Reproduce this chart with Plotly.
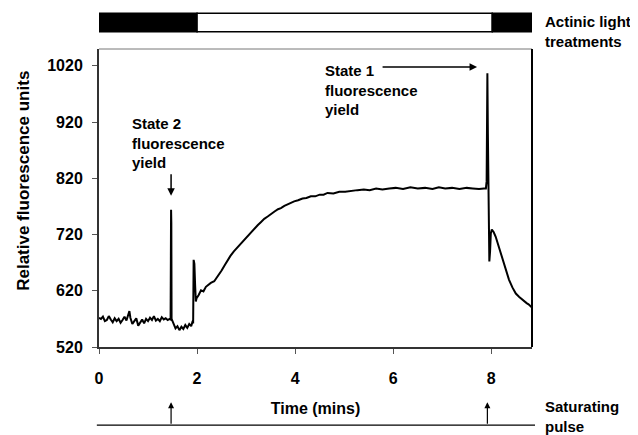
import plotly.graph_objects as go

# fluorescence trace (time in mins, relative fluorescence units)
time_min = [
    0.00, 0.04, 0.08, 0.12, 0.16, 0.20, 0.24, 0.28, 0.32, 0.36, 0.40, 0.44, 0.48,
    0.52, 0.56, 0.60, 0.62, 0.64, 0.68, 0.72, 0.76, 0.80, 0.84, 0.88, 0.92, 0.96,
    1.00, 1.04, 1.08, 1.12, 1.16, 1.20, 1.24, 1.28, 1.32, 1.36, 1.40, 1.44, 1.46,
    1.47, 1.475, 1.48, 1.50, 1.52, 1.56, 1.60, 1.64, 1.68, 1.72, 1.76, 1.80, 1.84,
    1.88, 1.91, 1.92, 1.93, 1.945, 1.96, 1.975, 1.99, 2.03, 2.08, 2.13, 2.18, 2.22,
    2.28, 2.35, 2.42, 2.50, 2.56, 2.62, 2.68, 2.75, 2.82, 2.90, 2.97, 3.05, 3.11,
    3.17, 3.24, 3.30, 3.37, 3.44, 3.51, 3.58, 3.65, 3.71, 3.78, 3.85, 3.92, 3.98,
    4.06, 4.15, 4.23, 4.32, 4.41, 4.50, 4.58, 4.66, 4.78, 4.90, 5.02, 5.14, 5.27,
    5.40, 5.52, 5.65, 5.78, 5.92, 6.05, 6.20, 6.35, 6.50, 6.65, 6.80, 6.93, 7.06,
    7.20, 7.35, 7.50, 7.62, 7.75, 7.85, 7.89, 7.905, 7.92, 7.93, 7.945, 7.96, 7.975,
    7.99, 8.01, 8.05, 8.09, 8.15, 8.22, 8.29, 8.36, 8.43, 8.50, 8.57, 8.63, 8.68,
    8.72, 8.76, 8.80, 8.83,
]
fluorescence = [
    572, 570, 574, 566, 568, 575, 569, 564, 571, 566, 570, 563, 568,
    574, 567, 579, 584, 572, 561, 566, 571, 558, 565, 569, 562, 570,
    566, 572, 568, 575, 567, 570, 566, 573, 569, 571, 568, 570, 569,
    764, 740, 570, 566, 561, 553, 557, 550, 556, 552, 559, 554, 561,
    557, 566, 562, 675, 668, 630, 601, 607, 612, 621, 619, 627, 630,
    634, 637, 645, 656, 665, 674, 682, 690, 697, 705, 711, 719, 725,
    731, 737, 742, 748, 752, 757, 761, 765, 767, 771, 774, 776, 779,
    781, 784, 785, 788, 788, 791, 791, 794, 793, 796, 796, 798, 799,
    800, 799, 802, 800, 802, 803, 801, 804, 802, 803, 801, 804, 802,
    803, 801, 803, 802, 801, 802, 802, 815, 1007, 900, 760, 672, 690,
    722, 729, 724, 716, 699, 676, 656, 640, 626, 615, 609, 604, 601,
    598, 596, 592, 590,
]

# actinic light periods: (start, end, colour)
light_start = [0, 2, 8.02]
light_end = [2, 8.02, 8.83]
light_fill = ['black', 'white', 'black']

# saturating pulse times (mins)
pulse_times = [1.47, 7.92]

y_ticks = [520, 620, 720, 820, 920, 1020]
x_ticks = [0, 2, 4, 6, 8]

FONT = 'Liberation Sans, Arial, sans-serif'
bold = dict(family=FONT, size=16, color='black', weight='bold')
label_font = dict(family=FONT, size=15, color='black', weight='bold')

fig = go.Figure()
fig.add_trace(go.Scatter(x=time_min, y=fluorescence, mode='lines',
                         line=dict(color='black', width=2),
                         showlegend=False, hoverinfo='skip'))

# light treatment bar above the plot
for x0, x1, fill in zip(light_start, light_end, light_fill):
    fig.add_shape(type='rect', xref='x', yref='paper', x0=x0, x1=x1,
                  y0=1.058, y1=1.12, fillcolor=fill,
                  line=dict(color='black', width=1.5), layer='above')

# top / right frame
fig.add_shape(type='line', xref='paper', yref='paper', x0=0, x1=1, y0=1, y1=1,
              line=dict(color='#777', width=1))
fig.add_shape(type='line', xref='paper', yref='paper', x0=1, x1=1, y0=0, y1=1,
              line=dict(color='black', width=2))

# saturating pulse baseline
fig.add_shape(type='line', xref='paper', yref='paper', x0=-0.005, x1=1.007,
              y0=-0.262, y1=-0.262, line=dict(color='black', width=1.2))

annotations = []
for pt in pulse_times:
    annotations.append(dict(x=pt, y=-0.185, xref='x', yref='paper', text='',
                            showarrow=True, ax=0, ay=23, arrowhead=2,
                            arrowsize=1, arrowwidth=1.2, arrowcolor='black'))

annotations += [
    dict(x=0.64, y=936, xref='x', yref='y', text='State 2<br>fluorescence<br>yield',
         showarrow=False, xanchor='left', yanchor='top', align='left', font=label_font),
    dict(x=1.47, y=789, xref='x', yref='y', text='', showarrow=True, ax=0, ay=-23,
         arrowhead=2, arrowsize=1, arrowwidth=1.5, arrowcolor='black'),
    dict(x=4.56, y=1030, xref='x', yref='y', text='State 1<br>fluorescence<br>yield',
         showarrow=False, xanchor='left', yanchor='top', align='left', font=label_font),
    dict(x=7.71, y=1018, xref='x', yref='y', text='', showarrow=True, ax=-96, ay=0,
         arrowhead=2, arrowsize=1, arrowwidth=1.5, arrowcolor='black'),
    dict(x=1.025, y=1.06, xref='paper', yref='paper', text='Actinic light<br>treatments',
         showarrow=False, xanchor='left', yanchor='middle', align='left', font=label_font),
    dict(x=1.025, y=-0.232, xref='paper', yref='paper', text='Saturating<br>pulse',
         showarrow=False, xanchor='left', yanchor='middle', align='left', font=label_font),
    # y axis title
    dict(x=-0.176, y=0.557, xref='paper', yref='paper', text='Relative fluorescence units',
         showarrow=False, textangle=-90, xanchor='center', yanchor='middle',
         font=dict(family=FONT, size=17, color='black', weight='bold')),
]

# page body has an 8px margin, so the figure is sized/offset to compensate
fig.update_layout(
    width=630, height=427,
    margin=dict(l=91, r=106, t=41, b=88),
    paper_bgcolor='white', plot_bgcolor='white',
    annotations=annotations,
    xaxis=dict(range=[0, 8.83], tickvals=x_ticks, showgrid=False, zeroline=False,
               showline=True, linecolor='#333', linewidth=2,
               ticks='outside', ticklen=5, tickcolor='#555', ticklabelstandoff=11,
               tickfont=bold,
               title=dict(text='Time (mins)', font=bold, standoff=17)),
    yaxis=dict(range=[520, 1050], tickvals=y_ticks, showgrid=False, zeroline=False,
               showline=True, linecolor='#333', linewidth=2,
               ticks='outside', ticklen=5, tickcolor='#555', ticklabelstandoff=6,
               tickfont=bold),
)

fig.write_html("out.html")
